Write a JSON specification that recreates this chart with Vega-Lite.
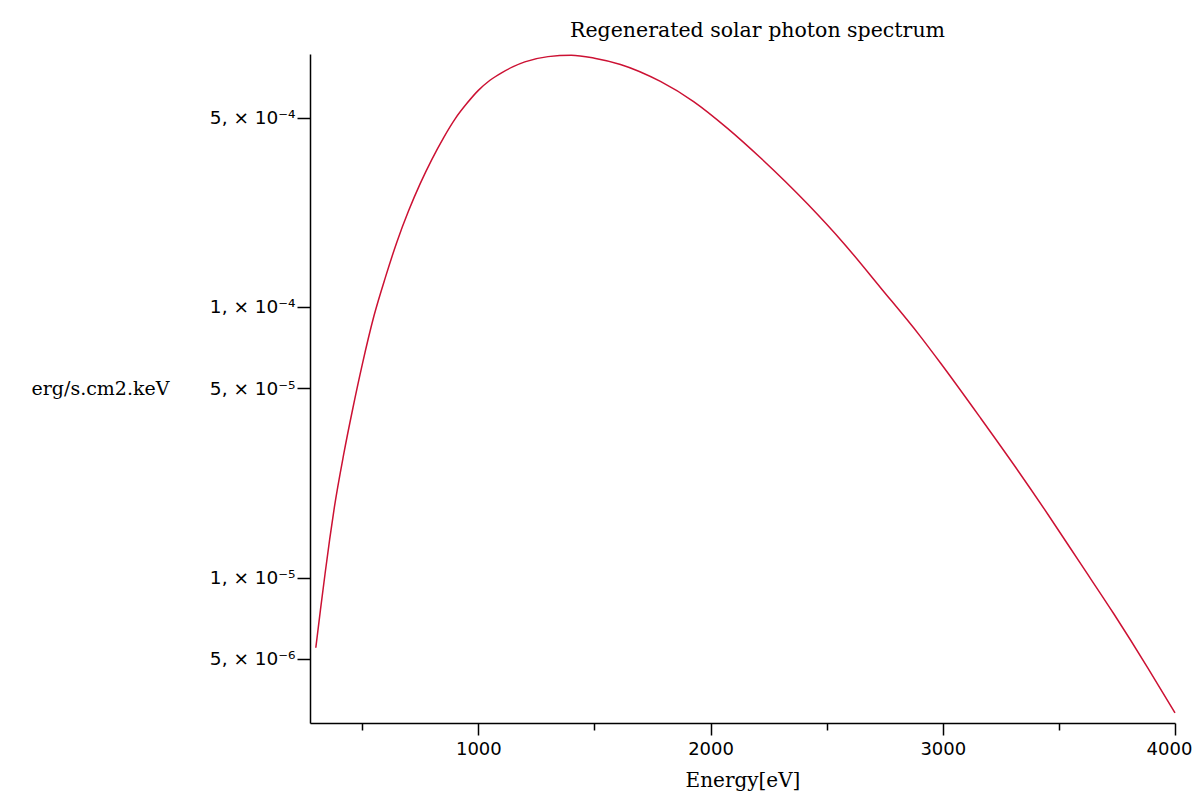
{
  "$schema": "https://vega.github.io/schema/vega-lite/v6.json",
  "width": 865,
  "height": 669,
  "autosize": {"type": "none"},
  "padding": {"left": 310, "top": 54, "right": 19, "bottom": 79},
  "background": "white",
  "config": {"view": {"stroke": null}},
  "title": {
    "text": "Regenerated solar photon spectrum",
    "font": "DejaVu Serif",
    "fontSize": 20.5,
    "fontWeight": "normal",
    "color": "black",
    "anchor": "middle",
    "dx": 15,
    "offset": 11
  },
  "data": {
    "values": [
      {"energy": 300, "flux": 5.5e-6},
      {"energy": 320, "flux": 7.59e-6},
      {"energy": 340, "flux": 1.035e-5},
      {"energy": 360, "flux": 1.39e-5},
      {"energy": 380, "flux": 1.82e-5},
      {"energy": 420, "flux": 2.85e-5},
      {"energy": 460, "flux": 4.24e-5},
      {"energy": 500, "flux": 6.12e-5},
      {"energy": 550, "flux": 9.23e-5},
      {"energy": 600, "flux": 1.288e-4},
      {"energy": 650, "flux": 1.746e-4},
      {"energy": 700, "flux": 2.27e-4},
      {"energy": 750, "flux": 2.86e-4},
      {"energy": 800, "flux": 3.51e-4},
      {"energy": 850, "flux": 4.217e-4},
      {"energy": 900, "flux": 4.955e-4},
      {"energy": 950, "flux": 5.64e-4},
      {"energy": 1000, "flux": 6.31e-4},
      {"energy": 1050, "flux": 6.88e-4},
      {"energy": 1100, "flux": 7.33e-4},
      {"energy": 1150, "flux": 7.72e-4},
      {"energy": 1200, "flux": 8.04e-4},
      {"energy": 1300, "flux": 8.41e-4},
      {"energy": 1400, "flux": 8.51e-4},
      {"energy": 1500, "flux": 8.3e-4},
      {"energy": 1612, "flux": 7.87e-4},
      {"energy": 1784, "flux": 6.81e-4},
      {"energy": 1927, "flux": 5.74e-4},
      {"energy": 2073, "flux": 4.57e-4},
      {"energy": 2216, "flux": 3.55e-4},
      {"energy": 2418, "flux": 2.4e-4},
      {"energy": 2573, "flux": 1.72e-4},
      {"energy": 2733, "flux": 1.175e-4},
      {"energy": 2900, "flux": 7.85e-5},
      {"energy": 2991, "flux": 6.19e-5},
      {"energy": 3164, "flux": 3.87e-5},
      {"energy": 3306, "flux": 2.61e-5},
      {"energy": 3453, "flux": 1.71e-5},
      {"energy": 3595, "flux": 1.12e-5},
      {"energy": 3737, "flux": 7.33e-6},
      {"energy": 3884, "flux": 4.62e-6},
      {"energy": 4000, "flux": 3.16e-6}
    ]
  },
  "mark": {"type": "line", "color": "#cc1133", "strokeWidth": 1.5, "interpolate": "monotone", "clip": false},
  "encoding": {
    "x": {
      "field": "energy",
      "type": "quantitative",
      "scale": {"domain": [275, 4000], "nice": false, "zero": false},
      "axis": {
        "title": "Energy[eV]",
        "titleFont": "DejaVu Serif",
        "titleFontSize": 20,
        "titleFontWeight": "normal",
        "titleColor": "black",
        "titleBaseline": "alphabetic",
        "titleY": 63,
        "values": [500, 1000, 1500, 2000, 2500, 3000, 3500, 4000],
        "labelExpr": "datum.value % 1000 === 0 ? datum.label : ''",
        "format": "d",
        "labelFont": "DejaVu Sans",
        "labelFontSize": 18,
        "labelColor": "black",
        "labelPadding": 5,
        "labelOverlap": false,
        "labelFlush": false,
        "labelOffset": {"condition": {"test": "datum.value === 4000", "value": -6}, "value": 0},
        "tickSize": {"condition": {"test": "datum.value % 1000 === 0", "value": 12}, "value": 7},
        "tickColor": "black",
        "tickWidth": 1.5,
        "domainColor": "black",
        "domainWidth": 1.5,
        "grid": false
      }
    },
    "y": {
      "field": "flux",
      "type": "quantitative",
      "scale": {"type": "log", "domain": [2.9e-6, 8.6e-4], "nice": false},
      "axis": {
        "title": "erg/s.cm2.keV",
        "titleFont": "DejaVu Serif",
        "titleFontSize": 19,
        "titleFontWeight": "normal",
        "titleColor": "black",
        "titleAngle": 0,
        "titleAlign": "center",
        "titleBaseline": "middle",
        "titleX": -210,
        "titleY": 334,
        "values": [5e-4, 1e-4, 5e-5, 1e-5, 5e-6],
        "labelExpr": "datum.value > 4e-4 ? '5, × 10⁻⁴' : datum.value > 9e-5 ? '1, × 10⁻⁴' : datum.value > 4e-5 ? '5, × 10⁻⁵' : datum.value > 9e-6 ? '1, × 10⁻⁵' : '5, × 10⁻⁶'",
        "labelFont": "DejaVu Sans",
        "labelFontSize": 18.5,
        "labelColor": "black",
        "labelPadding": 2,
        "labelOverlap": false,
        "tickSize": 13,
        "tickColor": "black",
        "tickWidth": 1.5,
        "domainColor": "black",
        "domainWidth": 1.5,
        "grid": false
      }
    }
  }
}
